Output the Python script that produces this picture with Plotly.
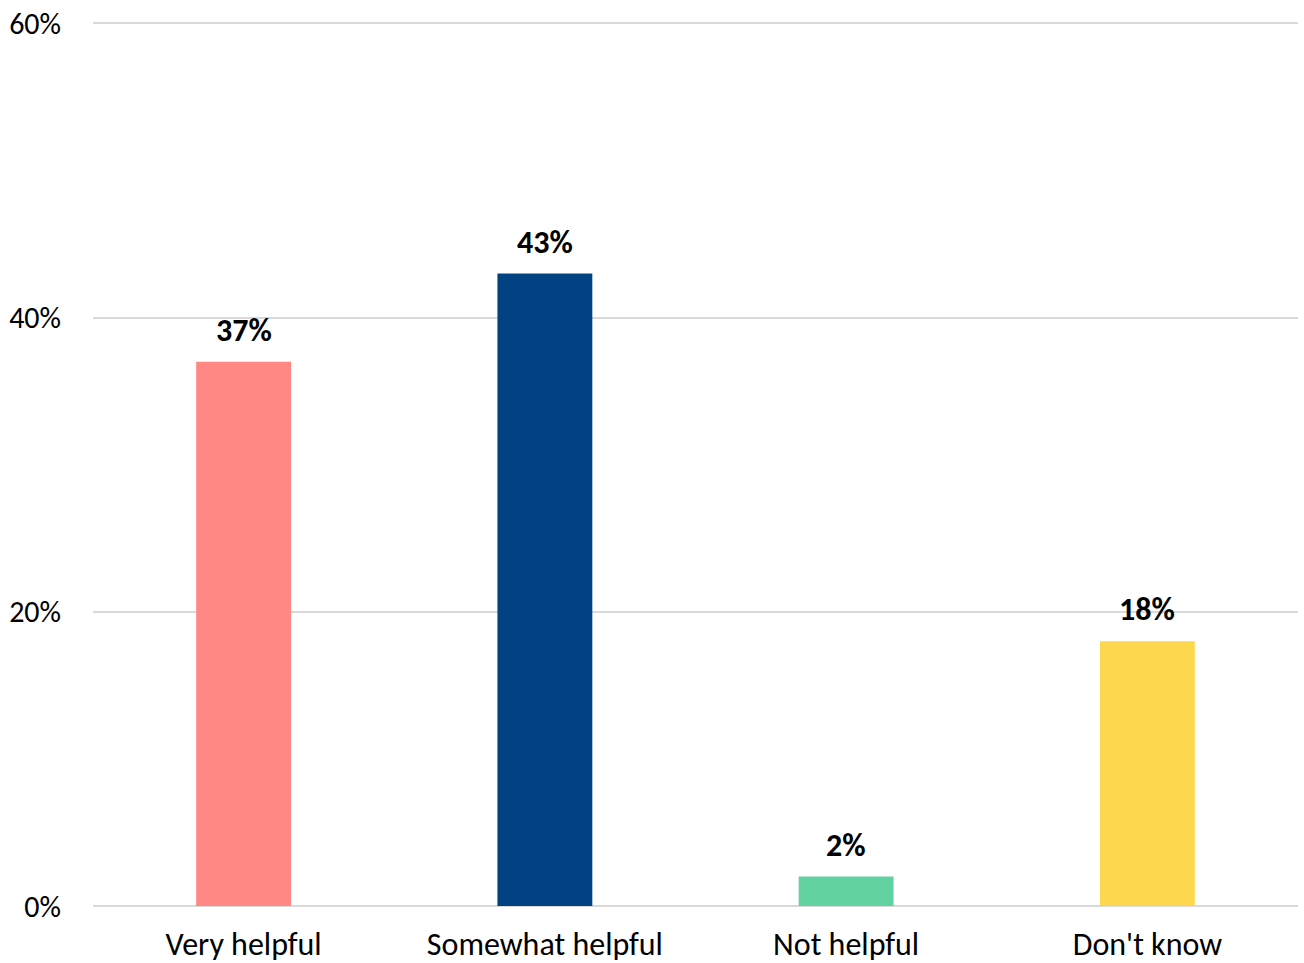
import plotly.graph_objects as go

categories = ["Very helpful", "Somewhat helpful", "Not helpful", "Don't know"]
values = [37, 43, 2, 18]
colors = ["#FF8884", "#004282", "#62D2A0", "#FDD84F"]
tick_vals = [0, 20, 40, 60]
tick_text = ["0%", "20%", "40%", "60%"]

FONT = "Carlito, Calibri, Lato, sans-serif"

fig = go.Figure()
fig.add_trace(go.Bar(
    x=categories, y=values, marker=dict(color=colors, line=dict(width=0)),
    hoverinfo="skip", showlegend=False,
))
for c, v in zip(categories, values):
    fig.add_annotation(x=c, y=v, text=f"<b>{v}%</b>", showarrow=False,
                       yanchor="bottom", yshift=10,
                       font=dict(family=FONT, size=32, color="#000000"))

fig.update_layout(
    width=1304, height=963,
    margin=dict(l=93, r=6, t=22, b=57),
    paper_bgcolor="white", plot_bgcolor="white",
    bargap=0.685,
    font=dict(family=FONT, size=30, color="#000000"),
    xaxis=dict(showgrid=False, showline=False, ticks="", ticklabelstandoff=16,
               automargin=False, ticklabeloverflow="allow",
               tickfont=dict(family=FONT, size=32, color="#000000")),
    yaxis=dict(range=[0, 60.1], tickvals=tick_vals, ticktext=tick_text,
               showgrid=True, gridcolor="#D9D9D9", gridwidth=1.5,
               zeroline=True, zerolinecolor="#D9D9D9", zerolinewidth=2,
               showline=False, ticks="", ticklabelstandoff=31,
               automargin=False, ticklabeloverflow="allow",
               tickfont=dict(family=FONT, size=30, color="#000000")),
)
fig.write_html("out.html", config={"displayModeBar": False},
               post_script="document.body.style.margin='0px';document.body.style.overflow='hidden';")
